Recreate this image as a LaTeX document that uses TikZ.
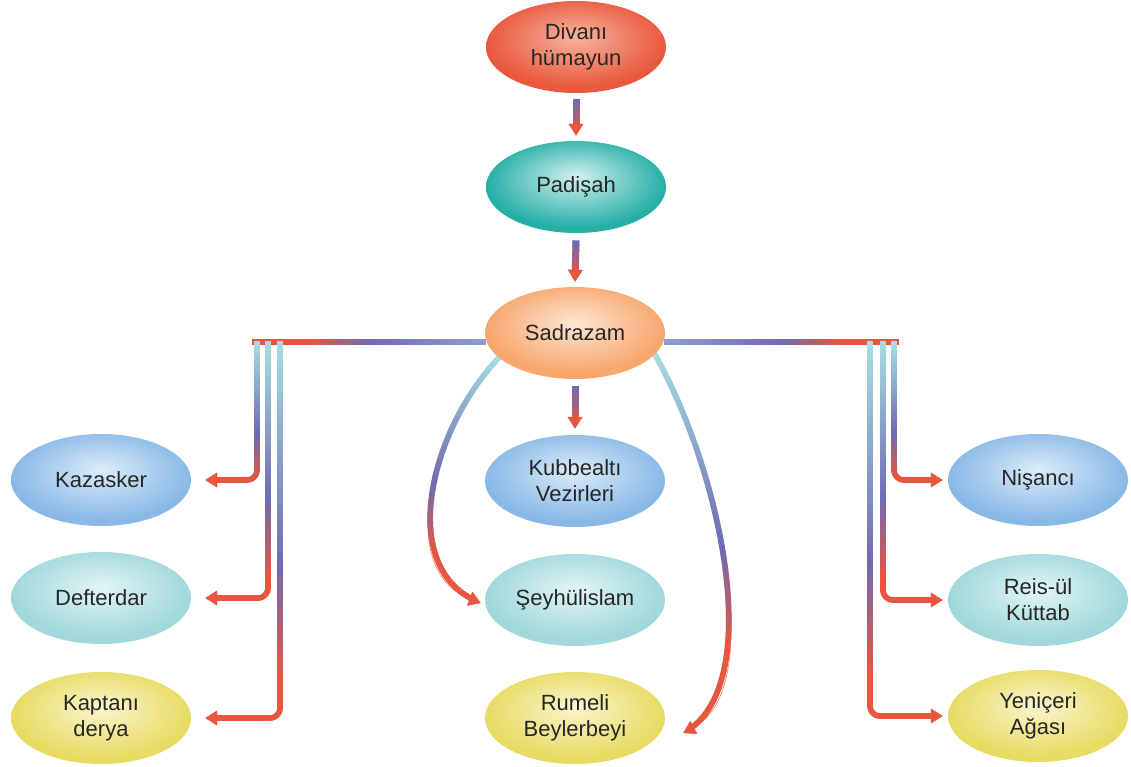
\documentclass[tikz,border=0pt]{standalone}
\usepackage{fontspec}
\setmainfont{Liberation Sans}
\usetikzlibrary{shapes.geometric,arrows.meta,decorations.markings,backgrounds}

\definecolor{lnCyan}{HTML}{A6DFE2}
\definecolor{lnPurple}{HTML}{6E6AB2}
\definecolor{lnRed}{HTML}{E8563F}
\definecolor{lnLilac}{HTML}{8E9CD4}
\colorlet{ovin}{white}
\colorlet{ovout}{gray}

% soft highlight a little above the middle of each oval
\pgfdeclareradialshading[ovin,ovout]{glossy}{\pgfpoint{0bp}{6bp}}{%
  color(0bp)=(ovin); color(25bp)=(ovout); color(50bp)=(ovout)}

% colour of one short piece of a shaded connector
\newcommand\gradmark[3]{%
  \pgfmathsetmacro\gf{\pgfkeysvalueof{/pgf/decoration/mark info/distance from start}/\pgfdecoratedpathlength}%
  \pgfmathsetmacro\ga{min(100,max(0,200*\gf))}%
  \pgfmathsetmacro\gb{min(100,max(0,400*(\gf-0.5)))}%
  \colorlet{gc}{#2!\ga!#1}\colorlet{gc}{#3!\gb!gc}%
  \fill[gc, sharp corners] (-0.9pt,-\halfwd) rectangle (0.9pt,\halfwd);}

\begin{document}
\begin{tikzpicture}[
        x=1pt, y=-1pt,
        oval/.style 2 args={
            ellipse,
            minimum width=180pt,
            minimum height=92pt,
            inner sep=0pt,
            align=center,
            text=black!85,
            font=\fontsize{22}{26}\selectfont,
            /utils/exec={\definecolor{ovin}{HTML}{#1}\definecolor{ovout}{HTML}{#2}},
            shading=glossy
        },
        redov/.style={oval={F7B4A0}{E9583C}},
        tealov/.style={oval={D2F1EE}{26AFA6}},
        peachov/.style={oval={FDE6D4}{F7A66C}},
        blueov/.style={oval={DCECF9}{88B9E6}},
        cyanov/.style={oval={E2F5F5}{A0D8DB}},
        yellowov/.style={oval={FAF6CF}{E7DB62}},
        lw/.code={\def\halfwd{#1}},
        flow/.style n args={3}{
            draw=#3,
            line width=0.4pt,
            rounded corners=10pt,
            -{Triangle[length=12pt,width=15pt]},
            postaction={decorate, decoration={markings,
                mark=between positions 0 and -11pt step 1.2pt with {\gradmark{#1}{#2}{#3}}}}
        },
        bar/.style n args={3}{
            postaction={decorate, decoration={markings,
                mark=between positions 0 and 1 step 1.2pt with {\gradmark{#1}{#2}{#3}}}}
        }
    ]

    \useasboundingbox (0,0) rectangle (1131,767);

    \node[redov]    (div)  at (576,47)  {Divanı\\hümayun};
    \node[tealov]   (pad)  at (576,187) {Padişah};
    \node[peachov]  (sad)  at (575,333) {Sadrazam};

    \node[blueov]   (kub)  at (575,481) {Kubbealtı\\Vezirleri};
    \node[cyanov]   (sey)  at (575,600) {Şeyhülislam};
    \node[yellowov] (rum)  at (575,718) {Rumeli\\Beylerbeyi};

    \node[blueov]   (kaz)  at (101,480) {Kazasker};
    \node[cyanov]   (def)  at (101,598) {Defterdar};
    \node[yellowov] (kap)  at (101,718) {Kaptanı\\derya};

    \node[blueov]   (nis)  at (1038,480) {Nişancı};
    \node[cyanov]   (reis) at (1038,600) {Reis-ül\\Küttab};
    \node[yellowov] (yen)  at (1038,716) {Yeniçeri\\Ağası};

    \coordinate (barL) at (253,342);
    \coordinate (barR) at (898,342);
    \coordinate (l1) at (257,342);
    \coordinate (l2) at (268,342);
    \coordinate (l3) at (280,342);
    \coordinate (r1) at (894,342);
    \coordinate (r2) at (883,342);
    \coordinate (r3) at (870,342);

    \begin{scope}[on background layer]
    \path[bar={lnLilac}{lnPurple}{lnRed}, lw=3.2pt] (sad.west |- barL) -- (barL);
    \path[bar={lnLilac}{lnPurple}{lnRed}, lw=3.2pt] (sad.east |- barR) -- (barR);

    \draw[flow={lnPurple}{lnPurple!50!lnRed}{lnRed}, lw=3.5pt] ([yshift=-7pt]div.south) -- ([yshift=5pt]pad.north);
    \draw[flow={lnPurple}{lnPurple!50!lnRed}{lnRed}, lw=3.5pt] ([yshift=-8pt]pad.south) -- ([yshift=5pt]sad.north);
    \draw[flow={lnPurple}{lnPurple!50!lnRed}{lnRed}, lw=3.5pt] ([yshift=-8pt]sad.south) -- ([yshift=6pt]kub.north);

    \foreach \c/\n in {l1/kaz, l2/def, l3/kap}
        \draw[flow={lnCyan}{lnPurple}{lnRed}, lw=2.8pt] (\c) |- ([xshift=14pt]\n.east);
    \foreach \c/\n in {r1/nis, r2/reis, r3/yen}
        \draw[flow={lnCyan}{lnPurple}{lnRed}, lw=2.8pt] (\c) |- ([xshift=-5pt]\n.west);

    \draw[flow={lnCyan}{lnPurple}{lnRed}, lw=2.8pt] (sad.198) .. controls (430,430) and (395,570) .. ([shift={(-4,3)}]sey.west);
    \draw[flow={lnCyan}{lnPurple}{lnRed}, lw=2.8pt] (sad.-15) .. controls (725,480) and (765,690) .. ([shift={(18,15)}]rum.east);
    \end{scope}

\end{tikzpicture}
\end{document}
